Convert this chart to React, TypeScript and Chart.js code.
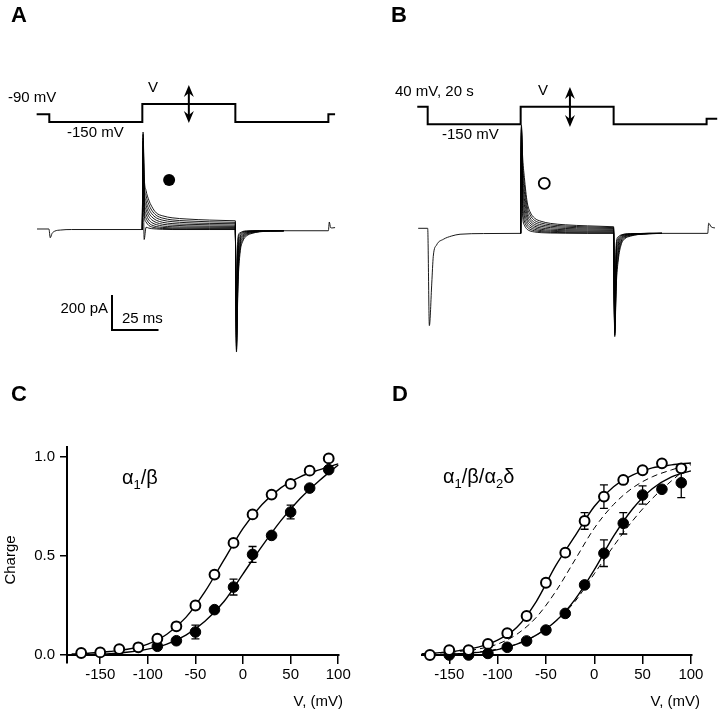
import React, { useEffect, useRef } from "react";
import { Chart, registerables } from "chart.js";

Chart.register(...registerables);

const FONT = '"Liberation Sans", Arial, Helvetica, sans-serif';
Chart.defaults.font.family = FONT;
Chart.defaults.color = "#000";

// ---------------- Panel A : control (filled) ----------------
const protocolTimeA = [-6.8, 0, 50, 100, 150, 153.6];
const protocolLevelA = [-90, -150, -10, -150, -90, -90];
const preTimeA = [-6.6, -0.2, 0.5, 1.5, 3, 6, 12, 50];
const preCurrentA = [0, 0, -50, -25, -12, -6, -3, -3];
const onTime = [50, 50.4, 51, 52, 53.5, 55, 57.5, 61, 66, 74, 86, 100];
const onCurrentA = [
  [-3, 554, 300, 220, 165, 130, 92, 75, 64, 57, 51, 47],
  [-3, 540, 270, 190, 140, 108, 78, 62, 52, 46, 41, 38],
  [-3, 520, 240, 160, 115, 88, 64, 50, 42, 36, 32, 30],
  [-3, 500, 210, 135, 92, 70, 50, 38, 31, 27, 24, 22],
  [-3, 470, 180, 110, 72, 53, 37, 27, 22, 18, 16, 15],
  [-3, 430, 150, 85, 52, 37, 25, 17, 13, 11, 10, 9],
  [-3, 380, 120, 62, 35, 23, 14, 9, 6, 5, 4, 4],
  [-3, 320, 85, 40, 20, 12, 6, 3, 1, 0, 0, 0],
  [-3, 250, -60, 10, 5, 2, 0, -2, -3, -3, -3, -3],
];
const offTime = [100, 100.6, 101.4, 102.5, 104, 106, 109, 113, 119, 126];
const offCurrentA = [
  [47, -703, -330, -140, -70, -40, -25, -16, -12, -10],
  [38, -690, -300, -120, -60, -34, -22, -15, -11, -10],
  [30, -670, -270, -100, -50, -29, -19, -14, -11, -10],
  [22, -650, -240, -85, -42, -25, -17, -13, -11, -10],
  [15, -620, -200, -70, -35, -21, -15, -12, -10, -10],
  [9, -580, -160, -55, -28, -18, -13, -11, -10, -10],
  [4, -530, -120, -42, -22, -15, -12, -10, -10, -10],
  [0, -470, -80, -30, -17, -13, -11, -10, -10, -10],
  [-3, -400, -50, -22, -14, -11, -10, -10, -10, -10],
];
const postTimeA = [126, 150, 150.5, 151.2, 152, 153.6];
const postCurrentA = [-10, -10, 40, 8, 6, 8];
const scaleBarTime = 25; // ms
const scaleBarCurrent = 200; // pA

// ---------------- Panel B : after 40 mV, 20 s (open) ----------------
const protocolTimeB = [-5.6, 0, 50, 100, 150, 155.7];
const protocolLevelB = [40, -150, 40, -150, -90, -90];
const preTimeB = [-5.1, 0, 0.9, 2.2, 3, 4.8, 8.4, 12.9, 17.4, 30, 50];
const preCurrentB = [0, 0, -556, -313, -161, -95, -63, -44, -34, -30, -29];
const onCurrentB = [
  [-29, 590, 420, 290, 150, 95, 58, 40, 28, 20, 14, 9],
  [-29, 580, 380, 250, 125, 78, 45, 30, 20, 13, 8, 4],
  [-29, 570, 340, 210, 100, 60, 33, 20, 12, 6, 2, -1],
  [-29, 560, 300, 170, 78, 45, 22, 11, 4, -1, -4, -6],
  [-29, 545, 260, 135, 58, 31, 12, 2, -4, -8, -10, -12],
  [-29, 525, 220, 100, 40, 18, 3, -6, -11, -14, -16, -17],
  [-29, 500, 175, 70, 23, 6, -6, -13, -17, -20, -21, -22],
  [-29, 470, 130, 42, 8, -5, -14, -19, -23, -25, -26, -26],
  [-29, 430, 85, 18, -6, -15, -21, -25, -27, -28, -29, -29],
];
const offCurrentB = [
  [9, -619, -330, -181, -95, -60, -45, -36, -31, -29],
  [4, -610, -300, -160, -85, -55, -42, -35, -31, -29],
  [-1, -600, -270, -140, -75, -50, -39, -34, -30, -29],
  [-6, -590, -240, -120, -66, -46, -37, -33, -30, -29],
  [-12, -575, -210, -100, -58, -42, -35, -32, -30, -29],
  [-17, -560, -180, -85, -52, -39, -34, -31, -29, -29],
  [-22, -540, -150, -70, -46, -36, -33, -30, -29, -29],
  [-26, -510, -120, -58, -42, -34, -32, -30, -29, -29],
  [-29, -480, -90, -48, -38, -33, -31, -30, -29, -29],
];
const postTimeB = [126, 150.6, 151.1, 152.5, 154.5];
const postCurrentB = [-29, -29, 29, 8, 2];

// ---------------- Panel C : alpha1/beta ----------------
const xTickValues = [-150, -100, -50, 0, 50, 100];
const yTickValues = [0, 0.5, 1.0];
const cOpenV = [-170, -150, -130, -110, -90, -70, -50, -30, -10, 10, 30, 50, 70, 90];
const cOpenQ = [0.01, 0.013, 0.03, 0.039, 0.082, 0.145, 0.25, 0.406, 0.566, 0.71, 0.81, 0.864, 0.931, 0.993];
const cOpenErr = [0, 0, 0, 0, 0, 0, 0, 0, 0, 0, 0, 0, 0, 0];
const cFilledV = [-90, -70, -50, -30, -10, 10, 30, 50, 70, 90];
const cFilledQ = [0.044, 0.072, 0.116, 0.229, 0.343, 0.508, 0.604, 0.722, 0.843, 0.936];
const cFilledErr = [0, 0, 0.035, 0, 0.04, 0.04, 0, 0.035, 0, 0.012];
const fitV = [-180, -160, -140, -120, -100, -80, -60, -40, -20, 0, 20, 40, 60, 80, 100];
const cOpenFit = [0.005, 0.01, 0.018, 0.03, 0.055, 0.105, 0.19, 0.32, 0.48, 0.64, 0.76, 0.845, 0.9, 0.935, 0.965];
const cFilledFit = [0, 0.002, 0.006, 0.015, 0.03, 0.055, 0.1, 0.17, 0.27, 0.41, 0.55, 0.68, 0.79, 0.88, 0.96];

// ---------------- Panel D : alpha1/beta/alpha2delta ----------------
const dOpenV = [-170, -150, -130, -110, -90, -70, -50, -30, -10, 10, 30, 50, 70, 90];
const dOpenQ = [0, 0.025, 0.025, 0.056, 0.11, 0.197, 0.365, 0.517, 0.677, 0.8, 0.884, 0.933, 0.968, 0.943];
const dOpenErr = [0, 0, 0, 0, 0, 0, 0, 0, 0.042, 0.059, 0, 0, 0, 0];
const dFilledV = [-150, -130, -110, -90, -70, -50, -30, -10, 10, 30, 50, 70, 90];
const dFilledQ = [0, 0, 0.008, 0.039, 0.071, 0.126, 0.21, 0.354, 0.514, 0.665, 0.808, 0.837, 0.87];
const dFilledErr = [0, 0, 0, 0, 0, 0, 0, 0, 0.067, 0.054, 0.046, 0, 0.075];
const dOpenFit = [0.005, 0.012, 0.022, 0.04, 0.075, 0.14, 0.27, 0.45, 0.6, 0.75, 0.85, 0.91, 0.945, 0.96, 0.97];
const dFilledFit = [0, 0.002, 0.006, 0.013, 0.027, 0.055, 0.1, 0.17, 0.28, 0.43, 0.6, 0.74, 0.84, 0.9, 0.93];

// ---------------- helpers ----------------
const pts = (xs: number[], ys: number[]) => xs.map((x, i) => ({ x, y: ys[i] }));

type Txt = { t: string; x: number; y: number; size?: number; bold?: boolean; align?: CanvasTextAlign; rot?: number };
function drawTexts(ctx: CanvasRenderingContext2D, items: Txt[]) {
  items.forEach((it) => {
    ctx.save();
    ctx.font = `${it.bold ? "bold " : ""}${it.size ?? 15}px ${FONT}`;
    ctx.fillStyle = "#000";
    ctx.textAlign = it.align ?? "left";
    ctx.textBaseline = "middle";
    ctx.translate(it.x, it.y);
    if (it.rot) ctx.rotate(it.rot);
    ctx.fillText(it.t, 0, 0);
    ctx.restore();
  });
}
function drawRich(ctx: CanvasRenderingContext2D, x: number, y: number, parts: [string, boolean][]) {
  ctx.save();
  ctx.fillStyle = "#000";
  ctx.textAlign = "left";
  ctx.textBaseline = "alphabetic";
  let cx = x;
  parts.forEach(([s, sub]) => {
    ctx.font = `${sub ? 13 : 20}px ${FONT}`;
    ctx.fillText(s, cx, sub ? y + 5 : y);
    cx += ctx.measureText(s).width;
  });
  ctx.restore();
}
function drawDoubleArrow(ctx: CanvasRenderingContext2D, x: number, y1: number, y2: number) {
  ctx.save();
  ctx.strokeStyle = "#000";
  ctx.fillStyle = "#000";
  ctx.lineWidth = 2;
  ctx.beginPath();
  ctx.moveTo(x, y1 + 6);
  ctx.lineTo(x, y2 - 6);
  ctx.stroke();
  const head = (tipY: number, dir: number) => {
    ctx.beginPath();
    ctx.moveTo(x, tipY);
    ctx.lineTo(x - 5, tipY + dir * 12);
    ctx.lineTo(x, tipY + dir * 8);
    ctx.lineTo(x + 5, tipY + dir * 12);
    ctx.closePath();
    ctx.fill();
  };
  head(y1, 1);
  head(y2, -1);
  ctx.restore();
}

function errorBars(specs: { ds: number; err: number[] }[]) {
  return {
    id: "errorBars",
    beforeDatasetsDraw(chart: any) {
      const ctx = chart.ctx as CanvasRenderingContext2D;
      const ys = chart.scales.y;
      ctx.save();
      ctx.strokeStyle = "#000";
      ctx.lineWidth = 1.3;
      specs.forEach(({ ds, err }) => {
        const meta = chart.getDatasetMeta(ds);
        const raw = chart.data.datasets[ds].data;
        meta.data.forEach((el: any, i: number) => {
          const e = err[i];
          if (!e) return;
          const yt = ys.getPixelForValue(raw[i].y + e);
          const yb = ys.getPixelForValue(raw[i].y - e);
          ctx.beginPath();
          ctx.moveTo(el.x, yt);
          ctx.lineTo(el.x, yb);
          ctx.moveTo(el.x - 4, yt);
          ctx.lineTo(el.x + 4, yt);
          ctx.moveTo(el.x - 4, yb);
          ctx.lineTo(el.x + 4, yb);
          ctx.stroke();
        });
      });
      ctx.restore();
    },
  };
}

const thin = { borderColor: "#000", borderWidth: 0.9, pointRadius: 0, cubicInterpolationMode: "monotone" as const };

function traceDatasets(
  protoT: number[], protoV: number[], preT: number[], preI: number[],
  onRows: number[][], offRows: number[][], postT: number[], postI: number[]
) {
  const ds: any[] = [];
  ds.push({ data: pts(protoT, protoV), yAxisID: "y2", stepped: "before", borderColor: "#000", borderWidth: 2, pointRadius: 0 });
  ds.push({ data: pts(preT, preI), yAxisID: "y", ...thin });
  onRows.forEach((r) => ds.push({ data: pts(onTime, r), yAxisID: "y", ...thin }));
  offRows.forEach((r) => ds.push({ data: pts(offTime, r), yAxisID: "y", ...thin }));
  ds.push({ data: pts(postT, postI), yAxisID: "y", ...thin });
  return ds;
}

function traceOptions(xr: [number, number], yr: [number, number], y2r: [number, number]) {
  return {
    responsive: false,
    animation: false as const,
    events: [] as any[],
    layout: { padding: 0 },
    plugins: { legend: { display: false }, tooltip: { enabled: false } },
    scales: {
      x: { type: "linear" as const, display: false, min: xr[0], max: xr[1] },
      y: { type: "linear" as const, display: false, min: yr[0], max: yr[1] },
      y2: { type: "linear" as const, display: false, min: y2r[0], max: y2r[1] },
    },
  };
}

function makeA(): any {
  return {
    type: "line",
    data: { datasets: traceDatasets(protocolTimeA, protocolLevelA, preTimeA, preCurrentA, onCurrentA, offCurrentA, postTimeA, postCurrentA) },
    options: traceOptions([-26.5, 167.0], [-748.6, 1308.6], [-2005, 800.9]),
    plugins: [
      {
        id: "decoA",
        afterDraw(chart: any) {
          const ctx = chart.ctx as CanvasRenderingContext2D;
          const xs = chart.scales.x, ys = chart.scales.y;
          drawTexts(ctx, [
            { t: "A", x: 11, y: 16, size: 22, bold: true },
            { t: "-90 mV", x: 8, y: 98 },
            { t: "-150 mV", x: 67, y: 133 },
            { t: "V", x: 153, y: 88, align: "center" },
            { t: "200 pA", x: 108, y: 309, align: "right" },
            { t: "25 ms", x: 122, y: 319 },
          ]);
          drawDoubleArrow(ctx, xs.getPixelForValue(75), 85, 123);
          const x0 = xs.getPixelForValue(33.7);
          const y0 = ys.getPixelForValue(-577);
          ctx.save();
          ctx.strokeStyle = "#000";
          ctx.lineWidth = 2;
          ctx.beginPath();
          ctx.moveTo(x0, ys.getPixelForValue(-577 + scaleBarCurrent));
          ctx.lineTo(x0, y0);
          ctx.lineTo(xs.getPixelForValue(33.7 + scaleBarTime), y0);
          ctx.stroke();
          ctx.fillStyle = "#000";
          ctx.beginPath();
          ctx.arc(xs.getPixelForValue(64.4), ys.getPixelForValue(280), 6, 0, Math.PI * 2);
          ctx.fill();
          ctx.restore();
        },
      },
    ],
  };
}

function makeB(): any {
  return {
    type: "line",
    data: { datasets: traceDatasets(protocolTimeB, protocolLevelB, preTimeB, preCurrentB, onCurrentB, offCurrentB, postTimeB, postCurrentB) },
    options: traceOptions([-36.4, 157.2], [-752.6, 1304.6], [-2695.3, 1192.3]),
    plugins: [
      {
        id: "decoB",
        afterDraw(chart: any) {
          const ctx = chart.ctx as CanvasRenderingContext2D;
          const xs = chart.scales.x, ys = chart.scales.y;
          drawTexts(ctx, [
            { t: "B", x: 31, y: 16, size: 22, bold: true },
            { t: "40 mV, 20 s", x: 35, y: 92 },
            { t: "-150 mV", x: 82, y: 135 },
            { t: "V", x: 183, y: 91, align: "center" },
          ]);
          drawDoubleArrow(ctx, xs.getPixelForValue(76.5), 87, 127);
          ctx.save();
          ctx.strokeStyle = "#000";
          ctx.lineWidth = 1.8;
          ctx.beginPath();
          ctx.arc(xs.getPixelForValue(62.7), ys.getPixelForValue(257), 5.5, 0, Math.PI * 2);
          ctx.stroke();
          ctx.restore();
        },
      },
    ],
  };
}

const openStyle = { showLine: false, pointRadius: 4.9, pointBorderWidth: 2, pointBackgroundColor: "#fff", pointBorderColor: "#000", pointHoverRadius: 0 };
const filledStyle = { showLine: false, pointRadius: 5.3, pointBorderWidth: 1, pointBackgroundColor: "#000", pointBorderColor: "#000", pointHoverRadius: 0 };
const fitStyle = { pointRadius: 0, borderColor: "#000", borderWidth: 1.4, cubicInterpolationMode: "monotone" as const };
const dashStyle = { pointRadius: 0, borderColor: "#000", borderWidth: 1, borderDash: [6, 4], cubicInterpolationMode: "monotone" as const };

function chargeScales(xMin: number, xMax: number, showY: boolean) {
  const tickFont = { family: FONT, size: 15 };
  const y: any = {
    type: "linear" as const,
    display: showY,
    min: -0.0404,
    max: 1.0505,
    afterBuildTicks: (s: any) => {
      s.ticks = yTickValues.map((v) => ({ value: v }));
    },
    grid: { drawOnChartArea: false, drawTicks: true, tickLength: 7, color: "#000", lineWidth: 1.5 },
    border: { display: true, color: "#000", width: 2 },
    ticks: { color: "#000", font: tickFont, padding: 5, callback: (v: any) => Number(v).toFixed(1) },
  };
  if (showY) {
    y.afterFit = (s: any) => {
      s.width = 67;
    };
  }
  return {
    x: {
      type: "linear" as const,
      position: { y: 0 },
      min: xMin,
      max: xMax,
      afterBuildTicks: (s: any) => {
        s.ticks = xTickValues.map((v) => ({ value: v }));
      },
      grid: { drawOnChartArea: false, drawTicks: true, tickLength: 8, color: "#000", lineWidth: 1.5 },
      border: { display: true, color: "#000", width: 2 },
      ticks: { color: "#000", font: tickFont, padding: 3, maxRotation: 0, autoSkip: false },
    },
    y,
  };
}

function makeC(): any {
  return {
    type: "line",
    data: {
      datasets: [
        { data: pts(cOpenV, cOpenQ), ...openStyle },
        { data: pts(cFilledV, cFilledQ), ...filledStyle },
        { data: pts(fitV, cOpenFit), ...fitStyle },
        { data: pts(fitV, cFilledFit), ...fitStyle },
      ],
    },
    options: {
      responsive: false,
      animation: false,
      events: [],
      layout: { padding: { left: 0, top: 67, right: 21, bottom: 49 } },
      plugins: { legend: { display: false }, tooltip: { enabled: false } },
      scales: chargeScales(-184.9, 100.8, true),
    },
    plugins: [
      errorBars([
        { ds: 0, err: cOpenErr },
        { ds: 1, err: cFilledErr },
      ]),
      {
        id: "decoC",
        afterDraw(chart: any) {
          const ctx = chart.ctx as CanvasRenderingContext2D;
          drawTexts(ctx, [
            { t: "C", x: 11, y: 15, size: 22, bold: true },
            { t: "Charge", x: 11, y: 180, rot: -Math.PI / 2, align: "center" },
            { t: "V, (mV)", x: 343, y: 322, align: "right" },
          ]);
          drawRich(ctx, 122, 104, [["α", false], ["1", true], ["/β", false]]);
        },
      },
    ],
  };
}

function makeD(): any {
  return {
    type: "line",
    data: {
      datasets: [
        { data: pts(dOpenV, dOpenQ), ...openStyle },
        { data: pts(dFilledV, dFilledQ), ...filledStyle },
        { data: pts(fitV, dOpenFit), ...fitStyle },
        { data: pts(fitV, dFilledFit), ...fitStyle },
        { data: pts(fitV, cOpenFit), ...dashStyle },
        { data: pts(fitV, cFilledFit), ...dashStyle },
      ],
    },
    options: {
      responsive: false,
      animation: false,
      events: [],
      layout: { padding: { left: 61.7, top: 67, right: 28.3, bottom: 49 } },
      plugins: { legend: { display: false }, tooltip: { enabled: false } },
      scales: chargeScales(-178.5, 100.8, false),
    },
    plugins: [
      errorBars([
        { ds: 0, err: dOpenErr },
        { ds: 1, err: dFilledErr },
      ]),
      {
        id: "decoD",
        afterDraw(chart: any) {
          const ctx = chart.ctx as CanvasRenderingContext2D;
          drawTexts(ctx, [
            { t: "D", x: 32, y: 15, size: 22, bold: true },
            { t: "V, (mV)", x: 340, y: 322, align: "right" },
          ]);
          drawRich(ctx, 83, 103, [["α", false], ["1", true], ["/β/α", false], ["2", true], ["δ", false]]);
        },
      },
    ],
  };
}

function Panel({ make, left, top, width, height }: { make: () => any; left: number; top: number; width: number; height: number }) {
  const ref = useRef<HTMLCanvasElement>(null);
  useEffect(() => {
    const chart = new Chart(ref.current as HTMLCanvasElement, make());
    return () => chart.destroy();
  }, [make]);
  return (
    <canvas
      ref={ref}
      width={width}
      height={height}
      style={{ position: "absolute", left, top, width, height, display: "block" }}
    />
  );
}

export default function App() {
  return (
    <div style={{ position: "fixed", left: 0, top: 0, width: 720, height: 712, background: "#fff", overflow: "hidden" }}>
      <Panel make={makeA} left={0} top={0} width={360} height={360} />
      <Panel make={makeB} left={360} top={0} width={360} height={360} />
      <Panel make={makeC} left={0} top={380} width={360} height={332} />
      <Panel make={makeD} left={360} top={380} width={360} height={332} />
    </div>
  );
}
